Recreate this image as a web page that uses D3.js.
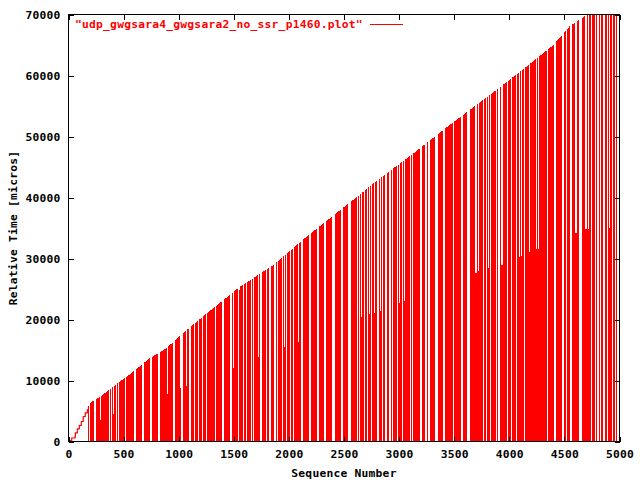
<!DOCTYPE html>
<html><head><meta charset="utf-8">
<script src="https://cdn.jsdelivr.net/npm/d3@7"></script>
<style>
html,body{margin:0;padding:0;background:#fff;}
svg{display:block;}
text{font-family:"DejaVu Sans Mono",monospace;font-weight:bold;font-size:11.3px;letter-spacing:0.22px;}
</style></head>
<body>
<svg id="c" width="640" height="480"></svg>
<script>
// ---- data ----
const xTicks = [0,500,1000,1500,2000,2500,3000,3500,4000,4500,5000];
const yTicks = [0,10000,20000,30000,40000,50000,60000,70000];
const seriesName = '"udp_gwgsara4_gwgsara2_no_ssr_p1460.plot"';

// start-up phase (thin trace)
const earlySeq  = [0,14,29,59,62,80,98,116,134,152,171,181];
const earlyTime = [0,160,570,770,1430,2080,2620,3280,4100,4700,5200,5740];

// top of the impulse mass
const envSeq  = [181,190,280,431,582,733,884,1036,1241,1550,1853,2155,2518,2820,3124,3426,3804,4091,4394,4545,4681,4757,5000];
const envTime = [5740,6280,7260,9340,11360,13600,15240,17700,20800,25290,28850,33490,38680,43050,47150,51420,56550,60530,64900,68020,69660,70400,74000];

// columns where impulses are missing / lower (seq centre, width in seq, highest value there)
const gapSeq = [191,242,289,372,392,407,433,456,504,517,605,674,747,823,896,955,1012,1030,1073,1104,1142,1178,1218,1252,
1332,1402,1475,1495,1541,1550,1586,1613,1659,1681,1726,1749,1798,1826,1874,1898,1919,1946,1958,1976,2019,2040,2089,2116,2189,2264,2330,2406,2482,
2552,2624,2645,2663,2684,2711,2733,2754,2778,2806,2827,2847,2881,2917,2938,2984,3008,3029,3051,3105,3123,3199,3244,3271,3341,3410,3492,3571,3631,3698,3725,3764,3791,
3813,3831,3882,3906,3934,3982,4018,4061,4091,4109,4140,4179,4206,4248,4267,4345,4415,4487,4521,4562,4605,4641,4659,4696,4720,4747,4780,4805,4825,4856,4889,4911,4934,4962,4986];
const gapWidth = [9,15,9,9,12,9,9,9,6,9,15,15,15,15,9,18,9,12,9,15,12,12,12,15,
12,18,18,9,6,6,12,9,9,6,9,21,12,18,12,15,6,9,9,9,9,9,6,15,15,18,21,21,18,
24,12,9,9,6,9,9,9,9,15,9,9,15,12,9,9,9,9,9,12,15,18,12,18,24,18,12,12,21,18,9,12,9,
9,12,9,12,12,12,9,9,9,9,12,9,9,12,9,9,15,18,12,15,15,15,9,12,15,15,12,12,12,18,12,12,12,12,12];
const gapLow = [0,0,3600,0,0,4480,0,0,5080,0,0,0,0,0,7820,0,8740,0,9180,0,0,0,0,0,
0,0,0,11970,0,24870,0,0,0,0,13820,0,0,0,0,0,15240,0,15410,0,0,0,16230,0,0,0,0,0,0,
0,0,0,20380,0,0,20820,0,21030,0,21470,0,0,0,0,0,22670,0,23000,0,0,0,0,0,0,0,0,0,0,27590,27870,0,0,
28470,0,0,0,29010,0,0,0,30210,30490,0,31090,0,31520,31630,0,0,0,0,0,34140,0,0,34800,34800,0,0,0,0,0,0,35030,0,0,0];

// ---- drawing ----
const svg = d3.select("#c");
const L = 68.5, R = 619.5, T = 14.5, B = 441.5;
const x = d3.scaleLinear().domain([0,5000]).range([L,R]);
const y = d3.scaleLinear().domain([0,70000]).range([B,T]);
const red = "#ff0000";

svg.append("defs").append("clipPath").attr("id","plot")
  .append("rect").attr("x",L).attr("y",T).attr("width",R-L).attr("height",B-T);

const g = svg.append("g").attr("clip-path","url(#plot)");

const env = envSeq.map((s,i)=>({s, t:envTime[i]}));
g.append("path").datum(env)
  .attr("d", d3.area().x(d=>x(d.s)).y0(y(0)).y1(d=>y(d.t)))
  .attr("fill", red).attr("shape-rendering","crispEdges");

const gaps = gapSeq.map((s,i)=>({s, w:gapWidth[i], low:gapLow[i]}));
g.selectAll("rect.gap").data(gaps).join("rect").attr("class","gap")
  .attr("x", d=>x(d.s - d.w/2))
  .attr("width", d=>x(d.s + d.w/2) - x(d.s - d.w/2))
  .attr("y", T)
  .attr("height", d=>y(d.low) - T)
  .attr("fill","#fff").attr("shape-rendering","crispEdges");

const early = earlySeq.map((s,i)=>({s, t:earlyTime[i]}));
g.append("path").datum(early)
  .attr("d", d3.line().x(d=>x(d.s)).y(d=>y(d.t)).curve(d3.curveStepAfter))
  .attr("fill","none").attr("stroke",red).attr("stroke-width",1.2);

// axes (gnuplot style, ticks inward and mirrored)
const ax = svg.append("g").attr("font-family",null);
ax.append("g").attr("transform",`translate(0,${B})`)
  .call(d3.axisBottom(x).tickValues(xTicks).tickSizeInner(-5).tickSizeOuter(0).tickPadding(8).tickFormat(d3.format("d")));
ax.append("g").attr("transform",`translate(0,${T})`)
  .call(d3.axisTop(x).tickValues(xTicks).tickSizeInner(-5).tickSizeOuter(0).tickFormat(""));
ax.append("g").attr("transform",`translate(${L},0)`)
  .call(d3.axisLeft(y).tickValues(yTicks).tickSizeInner(-5).tickSizeOuter(0).tickPadding(8).tickFormat(d3.format("d")));
ax.append("g").attr("transform",`translate(${R},0)`)
  .call(d3.axisRight(y).tickValues(yTicks).tickSizeInner(-5).tickSizeOuter(0).tickFormat(""));
ax.selectAll(".domain").remove();
ax.selectAll(".tick line").attr("stroke","#000").attr("shape-rendering","crispEdges");
ax.selectAll(".tick text").attr("fill","#000")
  .style("font-family","'DejaVu Sans Mono',monospace").style("font-weight","bold").style("font-size","11.3px").style("letter-spacing","0.22px");

svg.append("rect").attr("x",L).attr("y",T).attr("width",R-L).attr("height",B-T)
  .attr("fill","none").attr("stroke","#000").attr("stroke-width",1).attr("shape-rendering","crispEdges");

// legend
svg.append("text").attr("x",75).attr("y",28).attr("fill",red).text(seriesName);
svg.append("line").attr("x1",370).attr("x2",403).attr("y1",24.5).attr("y2",24.5)
  .attr("stroke",red).attr("stroke-width",1);

// axis titles
svg.append("text").attr("x",(L+R)/2).attr("y",477).attr("text-anchor","middle").attr("fill","#000").text("Sequence Number");
svg.append("text").attr("transform","translate(17,228) rotate(-90)").attr("text-anchor","middle").attr("fill","#000").text("Relative Time [micros]");
</script>
</body></html>
